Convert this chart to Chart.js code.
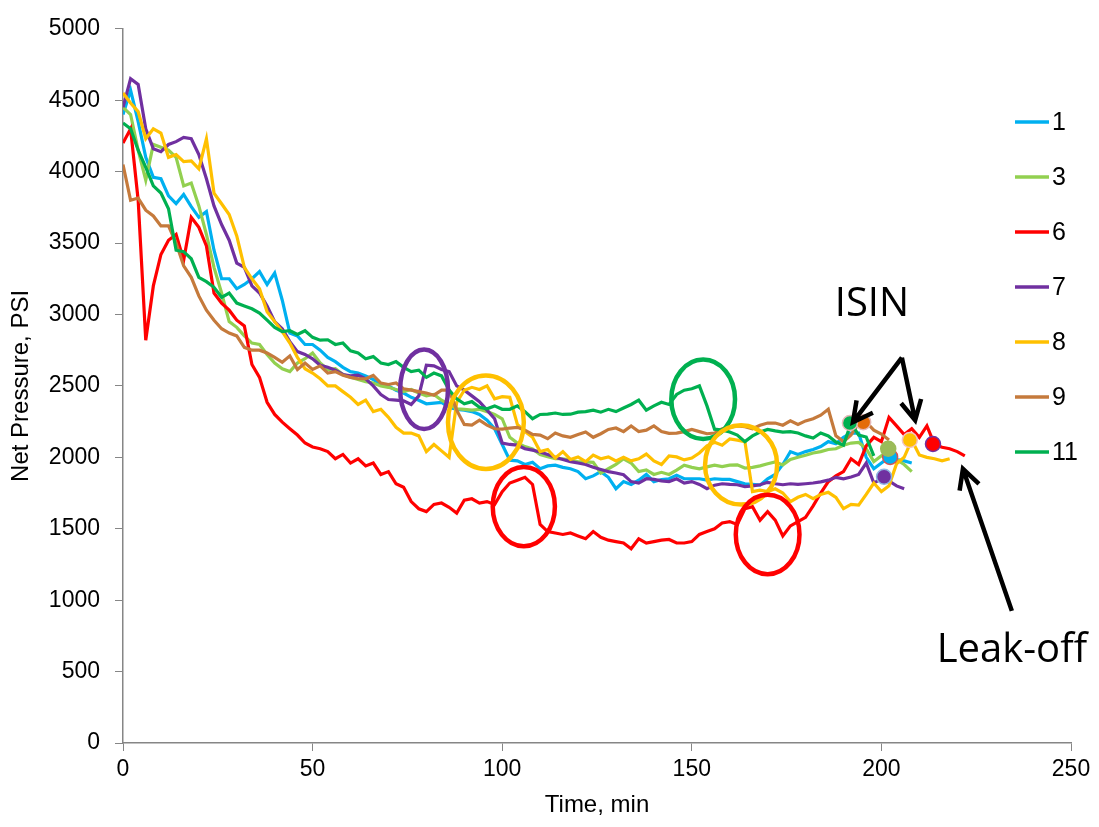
<!DOCTYPE html>
<html>
<head>
<meta charset="utf-8">
<title>Net Pressure vs Time</title>
<script src="https://cdn.jsdelivr.net/npm/chart.js@4.4.1/dist/chart.umd.min.js"></script>
<style>
  html, body { margin: 0; padding: 0; background: #fff; }
  #wrap { width: 1099px; height: 827px; }
</style>
</head>
<body>
<div id="wrap"><canvas id="pressureChart" width="1099" height="827"></canvas></div>
<script>
// Time axis, min (readings every 2 minutes)
const minutes = [
  0, 2, 4, 6, 8, 10, 12, 14, 16, 18,
  20, 22, 24, 26, 28, 30, 32, 34, 36, 38,
  40, 42, 44, 46, 48, 50, 52, 54, 56, 58,
  60, 62, 64, 66, 68, 70, 72, 74, 76, 78,
  80, 82, 84, 86, 88, 90, 92, 94, 96, 98,
  100, 102, 104, 106, 108, 110, 112, 114, 116, 118,
  120, 122, 124, 126, 128, 130, 132, 134, 136, 138,
  140, 142, 144, 146, 148, 150, 152, 154, 156, 158,
  160, 162, 164, 166, 168, 170, 172, 174, 176, 178,
  180, 182, 184, 186, 188, 190, 192, 194, 196, 198,
  200, 202, 204, 206, 208, 210, 212, 214, 216, 218,
  220, 222
];

// Net pressure, PSI, per stage
const stage1 = [
  4400, 4570, 4350, 4100, 3960, 3950, 3830, 3776, 3840, 3755,
  3680, 3720, 3450, 3250, 3250, 3180, 3210, 3250, 3300, 3210,
  3290, 3100, 2870, 2850, 2790, 2790, 2750, 2700, 2670, 2630,
  2600, 2590, 2570, 2545, 2510, 2500, 2470, 2450, 2420, 2400,
  2375, 2380, 2385, 2350, 2335, 2330, 2320, 2300, 2260, 2200,
  2090, 1980, 1975, 1950, 1965, 1920, 1940, 1945, 1930, 1920,
  1900, 1850, 1870, 1900, 1860, 1780, 1830, 1810, 1840, 1880,
  1830, 1845, 1850, 1875, 1850, 1850, 1850, 1840, 1850, 1845,
  1845, 1830, 1815, 1810, 1805, 1850, 1880, 1950, 2040, 2020,
  2040, 2055, 2075, 2110, 2095, 2140, 2170, 2170, 2000, 1920,
  1960, 2000, 1985, 1975, 1960
];
const stage3 = [
  4450, 4400, 4150, 3940, 4190, 4170, 4150, 4100, 3900, 3920,
  3760, 3560, 3330, 3150, 2950, 2910, 2850, 2800, 2790, 2720,
  2660, 2620, 2600, 2660, 2690, 2730, 2660, 2615, 2620, 2580,
  2560, 2545, 2530, 2520, 2500, 2490, 2475, 2460, 2475, 2450,
  2430, 2440, 2400, 2370, 2340, 2336, 2330, 2336, 2320, 2300,
  2270, 2140, 2100, 2075, 2058, 2020, 2005, 1990, 1990, 1980,
  1968, 1968, 1965, 1890, 1920, 1950, 1990, 1960, 1900, 1912,
  1880, 1895, 1880, 1910, 1945, 1930, 1920, 1933, 1945, 1935,
  1945, 1947, 1925, 1930, 1940, 1955, 1968, 1947, 1985, 2000,
  2015, 2030, 2040, 2055, 2060, 2085, 2100, 2105, 2060, 1970,
  2010, 2060, 1985, 1950, 1900
];
const stage6 = [
  4200, 4300, 3800, 2820, 3200, 3420, 3520, 3560, 3380, 3680,
  3610, 3480, 3150, 3080, 3030, 2960, 2920, 2650, 2560, 2385,
  2300, 2246, 2200, 2156, 2100, 2072, 2060, 2040, 1990, 2020,
  1960, 1990, 1940, 1960, 1880, 1900, 1815, 1790, 1690, 1640,
  1620, 1670, 1680, 1650, 1610, 1700, 1710, 1680, 1690, 1670,
  1760, 1820, 1840, 1860, 1810, 1530, 1480, 1470, 1460, 1470,
  1450, 1430, 1480, 1440, 1420, 1410, 1400, 1360, 1430, 1400,
  1410, 1420, 1425, 1400, 1400, 1410, 1460, 1480, 1500, 1540,
  1550, 1530, 1640, 1655, 1560, 1620, 1560, 1450, 1520, 1550,
  1580, 1660, 1750, 1830, 1870, 1900, 1990, 1950, 2080, 2140,
  2110, 2280, 2220, 2160, 2200, 2140, 2220, 2090, 2070, 2060,
  2040, 2010
];
const stage7 = [
  4450, 4650, 4610, 4300, 4160, 4140, 4190, 4210, 4240, 4230,
  4120, 3950, 3760, 3630, 3520, 3360, 3330, 3200, 3150, 3060,
  2950, 2900, 2810, 2740, 2720, 2690, 2645, 2630, 2610, 2580,
  2570, 2575, 2550, 2500, 2440, 2405, 2400, 2395, 2370, 2430,
  2645, 2640, 2615, 2600, 2500, 2470, 2430, 2390, 2330, 2270,
  2100, 2090, 2085, 2060, 2050, 2037, 2020, 2000, 1985, 1970,
  1960, 1950, 1930, 1915, 1900, 1890, 1878, 1830, 1820, 1850,
  1845, 1835, 1830, 1850, 1820, 1830, 1810, 1780, 1805, 1815,
  1810, 1808, 1795, 1800, 1808, 1825, 1815, 1808, 1815, 1810,
  1815, 1820, 1828, 1840, 1860, 1850, 1862, 1880, 1960, 1820,
  1850, 1835, 1800, 1780
];
const stage8 = [
  4550, 4480, 4420, 4230, 4300, 4270, 4100, 4120, 4070, 4075,
  4020, 4230, 3850, 3775, 3700, 3550, 3330, 3250, 3180, 3020,
  2950, 2880, 2800, 2700, 2620, 2590, 2550, 2500, 2500, 2460,
  2420, 2370, 2400, 2320, 2336, 2280, 2210, 2170, 2170, 2150,
  2040, 2090, 2045, 2000, 2385, 2470, 2490, 2475, 2500, 2410,
  2425, 2420, 2230, 2180, 2140, 2040, 2055, 1995, 2040, 1985,
  2003, 1970, 2016, 1990, 2003, 1975, 2000, 1975, 1990, 2023,
  1975, 1950, 2010, 2003, 1982, 1995, 2030, 2080, 2105, 2085,
  2128, 2120, 2110, 1760, 1770, 1760, 1780, 1750, 1690, 1720,
  1740, 1710, 1740, 1755, 1720, 1640, 1670, 1665, 1740, 1820,
  1760, 1800, 1955, 2000, 2121, 2016, 2000, 1990, 1975, 1990
];
const stage9 = [
  4050, 3800, 3815, 3730, 3690, 3620, 3620, 3500, 3340, 3260,
  3130, 3030, 2960, 2900, 2870, 2850, 2770, 2750, 2750, 2730,
  2700, 2665, 2710, 2615, 2660, 2615, 2640, 2590, 2600, 2575,
  2560, 2550, 2550, 2573, 2520, 2510, 2520, 2480, 2470, 2460,
  2450, 2435, 2470, 2470, 2330, 2230, 2225, 2260, 2225, 2200,
  2197, 2205, 2210, 2190, 2160, 2156, 2130, 2170, 2150, 2140,
  2160, 2177, 2140, 2165, 2195, 2205, 2180, 2220, 2180, 2190,
  2220, 2180, 2168, 2170, 2180, 2195, 2180, 2165, 2170, 2200,
  2210, 2220, 2215, 2200, 2225, 2240, 2240, 2225, 2255, 2230,
  2255, 2270, 2295, 2336, 2150, 2110, 2156, 2240, 2246, 2190,
  2163, 2121
];
const stage11 = [
  4340, 4300, 4150, 4030, 3900, 3850, 3740, 3450, 3440, 3390,
  3260, 3230, 3190, 3120, 3150, 3080, 3060, 3040, 3010, 2960,
  2910, 2880, 2886, 2860, 2886, 2840, 2820, 2823, 2790, 2800,
  2745, 2730, 2690, 2705, 2660, 2650, 2670, 2630, 2600, 2610,
  2560, 2590, 2570, 2470, 2410, 2375, 2390, 2350, 2340, 2360,
  2336, 2336, 2360, 2320, 2270, 2300, 2302, 2310, 2300, 2302,
  2316, 2320, 2330, 2316, 2336, 2320, 2345, 2370, 2400, 2330,
  2360, 2385, 2370, 2440, 2470, 2480, 2500, 2360, 2197, 2190,
  2177, 2156, 2110, 2150, 2177, 2195, 2185, 2177, 2180, 2170,
  2150, 2135, 2170, 2150, 2107, 2086, 2239, 2156, 2142, 2010
];

// ISIN points (stages 9, 11, 1, 3, 7, 8, 6)
const isinMinutes = [195.2, 191.7, 202.3, 201.8, 200.7, 207.5, 213.6];
const isinPsi = [2246, 2240, 2003, 2060, 1864, 2121, 2093];

const series = [
  { label: '1', values: stage1, color: '#00B0F0' },
  { label: '3', values: stage3, color: '#92D050' },
  { label: '6', values: stage6, color: '#FF0000' },
  { label: '7', values: stage7, color: '#7030A0' },
  { label: '8', values: stage8, color: '#FFC000' },
  { label: '9', values: stage9, color: '#C57A3C' },
  { label: '11', values: stage11, color: '#00B050' }
];

// Hand-drawn style rings around the events, in minutes / PSI
const rings = [
  { t: 79.4, p: 2476, dt: 6.3, dp: 278, color: '#7030A0' },
  { t: 95.7, p: 2246, dt: 10, dp: 327, color: '#FFC000' },
  { t: 105.7, p: 1655, dt: 8.2, dp: 278, color: '#FF0000' },
  { t: 153, p: 2406, dt: 8.4, dp: 278, color: '#00B050' },
  { t: 163, p: 1947, dt: 9.5, dp: 278, color: '#FFC000' },
  { t: 170, p: 1460, dt: 8.4, dp: 278, color: '#FF0000' }
];

// Arrows: tail -> tip, in minutes / PSI
const arrows = [
  { from: [205.4, 2698], to: [192.5, 2246] },
  { from: [205.4, 2698], to: [208.9, 2260] },
  { from: [234.4, 925], to: [221.5, 1919] }
];

const FONT = "'Liberation Sans', Arial, sans-serif";

function toPoints(values) {
  return values.map((v, i) => ({ x: minutes[i], y: v }));
}

const datasets = series.map((s, i) => ({
  type: 'line',
  label: s.label,
  data: toPoints(s.values),
  borderColor: s.color,
  backgroundColor: s.color,
  borderWidth: 3.2,
  pointRadius: 0,
  tension: 0,
  order: series.length - i
}));

datasets.push({
  type: 'scatter',
  label: 'ISIN',
  data: isinMinutes.map((t, i) => ({ x: t, y: isinPsi[i] })),
  pointRadius: 7.5,
  pointBorderWidth: 1.5,
  pointBackgroundColor: ['#E46C0A', '#00B050', '#00B0F0', '#9BBB59', '#7030A0', '#FFC000', '#FF0000'],
  pointBorderColor: ['#E6B9B8', '#E6B9B8', '#D9534F', '#9BBB59', '#8DB4E2', '#F2C4C4', '#7030A0'],
  order: 0
});

function drawArrow(ctx, x0, y0, x1, y1) {
  const ang = Math.atan2(y1 - y0, x1 - x0);
  const head = 22, spread = Math.PI / 6.5;
  ctx.beginPath();
  ctx.moveTo(x0, y0);
  ctx.lineTo(x1, y1);
  ctx.moveTo(x1 - head * Math.cos(ang - spread), y1 - head * Math.sin(ang - spread));
  ctx.lineTo(x1, y1);
  ctx.lineTo(x1 - head * Math.cos(ang + spread), y1 - head * Math.sin(ang + spread));
  ctx.stroke();
}

const overlayPlugin = {
  id: 'overlay',
  afterDatasetsDraw(chart) {
    const { ctx, scales: { x, y } } = chart;
    ctx.save();
    ctx.lineWidth = 4.5;
    rings.forEach(r => {
      const cx = x.getPixelForValue(r.t);
      const cy = y.getPixelForValue(r.p);
      const rx = x.getPixelForValue(r.t + r.dt) - cx;
      const ry = cy - y.getPixelForValue(r.p + r.dp);
      ctx.strokeStyle = r.color;
      ctx.beginPath();
      ctx.ellipse(cx, cy, rx, ry, 0, 0, Math.PI * 2);
      ctx.stroke();
    });
    ctx.restore();
  },
  afterDraw(chart) {
    const { ctx, scales: { x, y } } = chart;
    ctx.save();

    // arrows
    ctx.strokeStyle = '#000';
    ctx.lineWidth = 4.5;
    ctx.lineJoin = 'miter';
    arrows.forEach(a => {
      drawArrow(ctx,
        x.getPixelForValue(a.from[0]), y.getPixelForValue(a.from[1]),
        x.getPixelForValue(a.to[0]), y.getPixelForValue(a.to[1]));
    });

    // annotation text
    ctx.fillStyle = '#000';
    ctx.font = "40px 'Open Sans', sans-serif";
    ctx.textAlign = 'center';
    ctx.textBaseline = 'middle';
    ctx.fillText('ISIN', x.getPixelForValue(197.5), y.getPixelForValue(3070));
    ctx.fillText('Leak-off', x.getPixelForValue(234.4), y.getPixelForValue(650));

    // legend
    ctx.font = '25px ' + FONT;
    ctx.textAlign = 'left';
    ctx.lineWidth = 3.5;
    series.forEach((s, i) => {
      const ly = 122 + i * 55;
      ctx.strokeStyle = s.color;
      ctx.beginPath();
      ctx.moveTo(1015, ly);
      ctx.lineTo(1049, ly);
      ctx.stroke();
      ctx.fillText(s.label, 1052, ly + 1);
    });
    ctx.restore();
  }
};

const axisColor = '#868686';
const plainNumber = value => String(value);

new Chart(document.getElementById('pressureChart'), {
  data: { datasets: datasets },
  options: {
    responsive: false,
    animation: false,
    layout: { padding: { top: 24, right: 28, bottom: 0, left: 0 } },
    plugins: {
      legend: { display: false },
      tooltip: { enabled: false }
    },
    scales: {
      x: {
        type: 'linear',
        min: 0,
        max: 250,
        afterFit: scale => { scale.height = 84; },
        ticks: { stepSize: 50, color: '#000', font: { family: FONT, size: 23 }, padding: 5, maxRotation: 0, callback: plainNumber },
        grid: { drawOnChartArea: false, drawTicks: true, tickLength: 8, color: axisColor },
        border: { color: axisColor, width: 1.5 },
        title: { display: true, text: 'Time, min', color: '#000', font: { family: FONT, size: 24 }, padding: { top: 0, bottom: 7 } }
      },
      y: {
        type: 'linear',
        min: 0,
        max: 5000,
        afterFit: scale => { scale.width = 123; },
        ticks: { stepSize: 500, color: '#000', font: { family: FONT, size: 23 }, padding: 15, callback: plainNumber },
        grid: { drawOnChartArea: false, drawTicks: true, tickLength: 8, color: axisColor },
        border: { color: axisColor, width: 1.5 },
        title: { display: true, text: 'Net Pressure, PSI', color: '#000', font: { family: FONT, size: 24 }, padding: { top: 7, bottom: 0 } }
      }
    }
  },
  plugins: [overlayPlugin]
});
</script>
</body>
</html>
